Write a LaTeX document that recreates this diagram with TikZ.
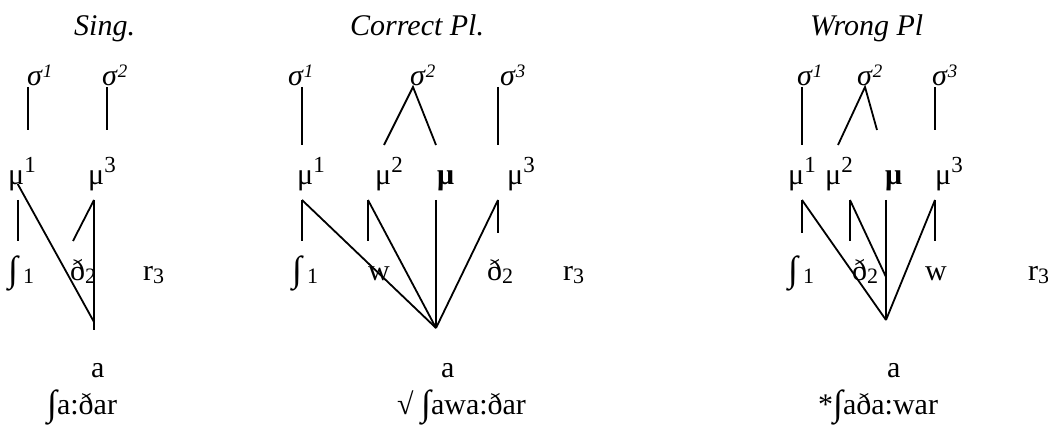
\documentclass[tikz,border=0pt]{standalone}
\usepackage{fontspec}
\setmainfont{Liberation Serif}
\newcommand\msup[1]{\raisebox{12pt}{\fontsize{23}{23}\selectfont #1}}
\newcommand\ssup[1]{\raisebox{8pt}{\fontsize{19}{19}\selectfont\itshape #1}}
\newcommand\msub[1]{\raisebox{-3pt}{\fontsize{22}{22}\selectfont #1}}
\newcommand\esh{\raisebox{-1.5pt}{\scalebox{1.2}[1.2]{∫}}}
\begin{document}
\begin{tikzpicture}[x=1pt,y=-1pt,
  lbl/.style={anchor=base west,inner sep=0pt,font=\fontsize{30}{36}\selectfont},
  ttl/.style={lbl,font=\fontsize{30}{36}\selectfont\itshape},
  ln/.style={line width=1.8pt}]
\useasboundingbox (0,0) rectangle (1048,427);
% ---------- Sing.
\node[ttl] (t1) at (74,36) {Sing.};
\node[lbl] (a1s1) at (27,86) {\textit{σ}\ssup{1}};
\node[lbl] (a1s2) at (102,86) {\textit{σ}\ssup{2}};
\node[lbl] (a1m1) at (8,185) {μ\msup{1}};
\node[lbl] (a1m3) at (88,185) {μ\msup{3}};
\node[lbl] (a1c1) at (8,280) {\esh\kern5pt\msub{1}};
\node[lbl] (a1c2) at (70,280) {ð\msub{2}};
\node[lbl] (a1c3) at (143,280) {r\msub{3}};
\node[lbl] (a1a) at (91,377) {a};
\node[lbl] (a1w) at (47,414) {\esh a:ðar};
\coordinate (p1) at (27.7,87); \coordinate (q1) at (27.7,130);
\coordinate (p2) at (107,87); \coordinate (q2) at (107,130);
\coordinate (m1) at (17.7,200); \coordinate (m1b) at (17.7,241); \coordinate (m1d) at (17.7,184);
\coordinate (m3) at (94,200); \coordinate (m3b) at (94,330); \coordinate (m3d) at (73,241);
\coordinate (v1) at (94,322);
\draw[ln] (p1) -- (q1);
\draw[ln] (p2) -- (q2);
\draw[ln] (m1) -- (m1b);
\draw[ln] (m1d) -- (v1);
\draw[ln] (m3) -- (m3b);
\draw[ln] (m3) -- (m3d);
% ---------- Correct Pl.
\node[ttl] (t2) at (350,36) {Correct Pl.};
\node[lbl] (b1s1) at (288,86) {\textit{σ}\ssup{1}};
\node[lbl] (b1s2) at (410,86) {\textit{σ}\ssup{2}};
\node[lbl] (b1s3) at (500,86) {\textit{σ}\ssup{3}};
\node[lbl] (b1m1) at (297,185) {μ\msup{1}};
\node[lbl] (b1m2) at (375,185) {μ\msup{2}};
\node[lbl] (b1mb) at (437,185) {\textbf{μ}};
\node[lbl] (b1m3) at (507,185) {μ\msup{3}};
\node[lbl] (b1c1) at (292,280) {\esh\kern5pt\msub{1}};
\node[lbl] (b1cw) at (368,280) {w};
\node[lbl] (b1c2) at (487,280) {ð\msub{2}};
\node[lbl] (b1c3) at (563,280) {r\msub{3}};
\node[lbl] (b1a) at (441,377) {a};
\node[lbl] (b1w) at (397,414) {√ \esh awa:ðar};
\coordinate (bp1) at (301.7,87); \coordinate (bq1) at (301.7,145);
\coordinate (bp2) at (413,87); \coordinate (bq2a) at (384,145); \coordinate (bq2b) at (436,145);
\coordinate (bp3) at (498,87); \coordinate (bq3) at (498,145);
\coordinate (bm1) at (302,200); \coordinate (bm1b) at (302,241);
\coordinate (bm2) at (368,200); \coordinate (bm2b) at (368,241);
\coordinate (bmb) at (436,200);
\coordinate (bm3) at (498,200); \coordinate (bm3b) at (498,233);
\coordinate (bv) at (436,328);
\draw[ln] (bp1) -- (bq1);
\draw[ln] (bq2a) -- (bp2) -- (bq2b);
\draw[ln] (bp3) -- (bq3);
\draw[ln] (bm1) -- (bm1b);
\draw[ln] (bm1) -- (bv);
\draw[ln] (bm2) -- (bm2b);
\draw[ln] (bm2) -- (bv);
\draw[ln] (bmb) -- (bv);
\draw[ln] (bm3) -- (bm3b);
\draw[ln] (bm3) -- (bv);
% ---------- Wrong Pl
\node[ttl] (t3) at (810,36) {Wrong Pl};
\node[lbl] (c1s1) at (797,86) {\textit{σ}\ssup{1}};
\node[lbl] (c1s2) at (857,86) {\textit{σ}\ssup{2}};
\node[lbl] (c1s3) at (932,86) {\textit{σ}\ssup{3}};
\node[lbl] (c1m1) at (788,185) {μ\msup{1}};
\node[lbl] (c1m2) at (825,185) {μ\msup{2}};
\node[lbl] (c1mb) at (885,185) {\textbf{μ}};
\node[lbl] (c1m3) at (935,185) {μ\msup{3}};
\node[lbl] (c1c1) at (788,280) {\esh\kern5pt\msub{1}};
\node[lbl] (c1c2) at (852,280) {ð\msub{2}};
\node[lbl] (c1cw) at (925,280) {w};
\node[lbl] (c1c3) at (1028,280) {r\msub{3}};
\node[lbl] (c1a) at (887,377) {a};
\node[lbl] (c1w) at (818,414) {*\esh aða:war};
\coordinate (cp1) at (802,87); \coordinate (cq1) at (802,145);
\coordinate (cp2) at (865,87); \coordinate (cq2a) at (838,145); \coordinate (cq2b) at (877,130);
\coordinate (cp3) at (935,87); \coordinate (cq3) at (935,130);
\coordinate (cm1) at (802,200); \coordinate (cm1b) at (802,233);
\coordinate (cm2) at (850,200); \coordinate (cm2b) at (850,241); \coordinate (cm2d) at (886,277);
\coordinate (cmb) at (886,200);
\coordinate (cm3) at (935,200); \coordinate (cm3b) at (935,241);
\coordinate (cv) at (886,320);
\draw[ln] (cp1) -- (cq1);
\draw[ln] (cq2a) -- (cp2) -- (cq2b);
\draw[ln] (cp3) -- (cq3);
\draw[ln] (cm1) -- (cm1b);
\draw[ln] (cm1) -- (cv);
\draw[ln] (cm2) -- (cm2b);
\draw[ln] (cm2) -- (cm2d);
\draw[ln] (cmb) -- (cv);
\draw[ln] (cm3) -- (cm3b);
\draw[ln] (cm3) -- (cv);
\end{tikzpicture}
\end{document}
